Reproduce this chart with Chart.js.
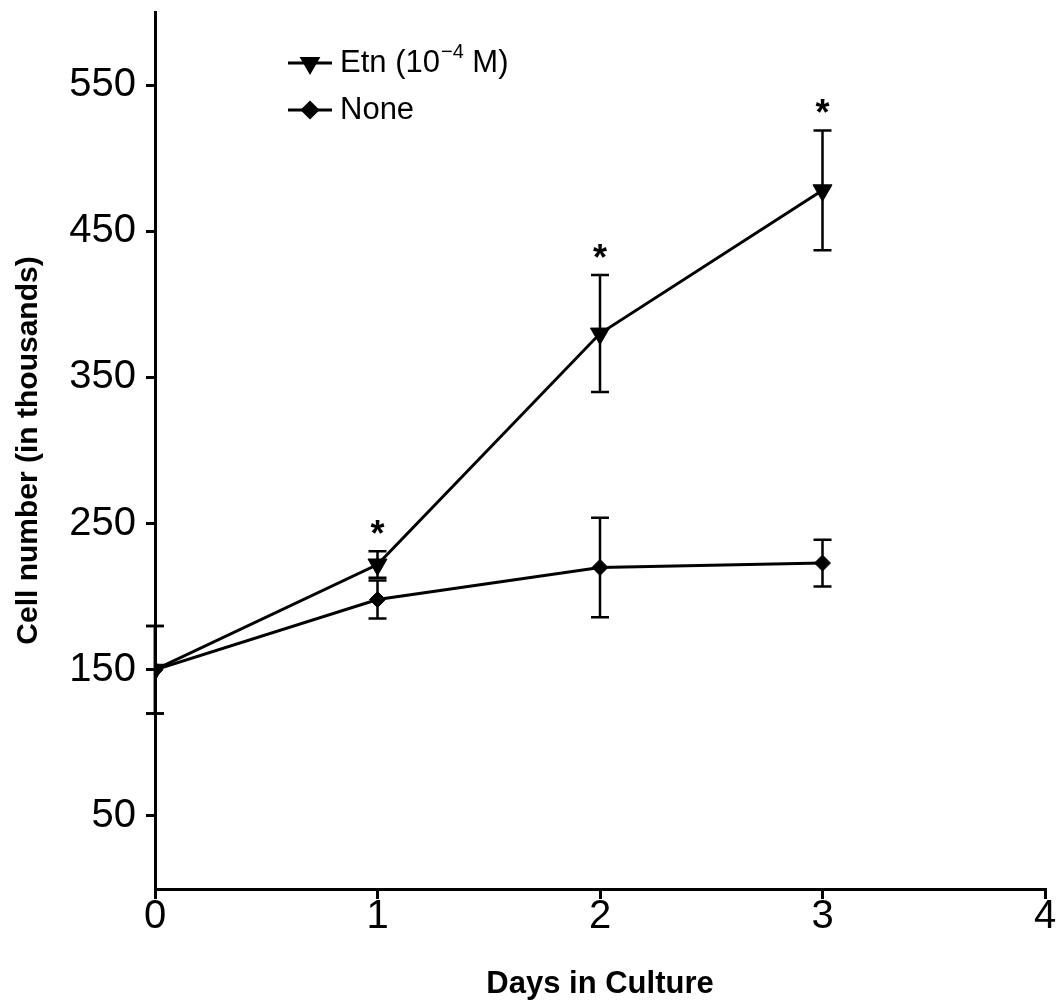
<!DOCTYPE html>
<html><head><meta charset="utf-8">
<script src="https://cdn.jsdelivr.net/npm/chart.js@4.4.1/dist/chart.umd.min.js"></script>
<style>html,body{margin:0;padding:0;background:#fff}</style>
</head><body>
<canvas id="c" width="1060" height="1005"></canvas>
<script>
// ---- data ----
const days = [0, 1, 2, 3];
const etnMean = [150, 222, 380, 478];
const etnErr  = [30, 9, 40, 41];
const noneMean = [150, 198, 220, 223];
const noneErr  = [30, 13, 34, 16];
const sigDays = [1, 2, 3];           // asterisks above Etn
const yTicks = [50, 150, 250, 350, 450, 550];
const xTicks = [0, 1, 2, 3, 4];
const etnLabel = 'Etn (10';
const etnSup = '\u22124';
const etnTail = ' M)';
const noneLabel = 'None';
const xTitle = 'Days in Culture';
const yTitle = 'Cell number (in thousands)';

const FONT = '"Liberation Sans", Arial, sans-serif';

const extras = {
  id: 'extras',
  afterDatasetsDraw(chart) {
    const ctx = chart.ctx, xs = chart.scales.x, ys = chart.scales.y;
    ctx.save();
    ctx.strokeStyle = '#000'; ctx.lineWidth = 2.5; ctx.lineCap = 'butt';
    [[etnMean, etnErr], [noneMean, noneErr]].forEach(([m, e]) => {
      days.forEach((d, i) => {
        const px = xs.getPixelForValue(d);
        const t = ys.getPixelForValue(m[i] + e[i]);
        const b = ys.getPixelForValue(m[i] - e[i]);
        ctx.beginPath();
        ctx.moveTo(px, t); ctx.lineTo(px, b);
        ctx.moveTo(px - 9, t); ctx.lineTo(px + 9, t);
        ctx.moveTo(px - 9, b); ctx.lineTo(px + 9, b);
        ctx.stroke();
      });
    });
    ctx.fillStyle = '#000';
    ctx.font = 'bold 36px ' + FONT;
    ctx.textAlign = 'center'; ctx.textBaseline = 'alphabetic';
    sigDays.forEach(d => {
      const i = days.indexOf(d);
      const px = xs.getPixelForValue(d);
      const t = ys.getPixelForValue(etnMean[i] + etnErr[i]);
      ctx.fillText('*', px, t - 5);
    });
    ctx.restore();
  },
  afterDraw(chart) {
    const ctx = chart.ctx;
    const rows = [63, 110];
    ctx.save();
    ctx.strokeStyle = '#000'; ctx.fillStyle = '#000'; ctx.lineWidth = 3;
    rows.forEach((ry, k) => {
      ctx.beginPath(); ctx.moveTo(288, ry); ctx.lineTo(332, ry); ctx.stroke();
      const ds = chart.data.datasets[k];
      Chart.helpers.drawPoint(ctx, {pointStyle: ds.pointStyle, rotation: ds.rotation || 0, radius: k === 0 ? 9 : 7.5, borderWidth: 1}, 310, ry);
      ctx.fill();
    });
    ctx.textBaseline = 'middle'; ctx.textAlign = 'left';
    ctx.font = '31px ' + FONT;
    let x = 340;
    ctx.fillText(etnLabel, x, rows[0]); x += ctx.measureText(etnLabel).width + 1;
    ctx.font = '20px ' + FONT;
    ctx.fillText(etnSup, x, rows[0] - 11); x += ctx.measureText(etnSup).width;
    ctx.font = '31px ' + FONT;
    ctx.fillText(etnTail, x, rows[0]);
    ctx.fillText(noneLabel, 340, rows[1]);
    ctx.restore();
  }
};

new Chart(document.getElementById('c'), {
  type: 'line',
  data: {
    datasets: [
      { label: etnLabel + etnSup + etnTail,
        data: days.map((d, i) => ({x: d, y: etnMean[i]})),
        borderColor: '#000', backgroundColor: '#000', borderWidth: 3,
        pointStyle: 'triangle', rotation: 180, pointRadius: 11, pointBorderWidth: 1, tension: 0 },
      { label: noneLabel,
        data: days.map((d, i) => ({x: d, y: noneMean[i]})),
        borderColor: '#000', backgroundColor: '#000', borderWidth: 3,
        pointStyle: 'rectRot', pointRadius: 8, pointBorderWidth: 1, tension: 0 }
    ]
  },
  options: {
    responsive: false, animation: false, devicePixelRatio: 1,
    layout: {padding: {top: 12, right: 15, left: 0, bottom: 0}},
    plugins: {legend: {display: false}, tooltip: {enabled: false}},
    scales: {
      x: {
        type: 'linear', min: 0, max: 4,
        afterBuildTicks(s) { s.ticks = xTicks.map(v => ({value: v})); },
        ticks: {color: '#000', font: {family: FONT, size: 40}, padding: -6, maxRotation: 0},
        grid: {drawOnChartArea: false, drawTicks: true, tickLength: 10, color: '#000', lineWidth: 3},
        border: {color: '#000', width: 3},
        title: {display: true, text: xTitle, color: '#000', font: {family: FONT, size: 31, weight: 'bold'}, padding: {top: 0, bottom: 2}},
        afterFit(s) { s.height = 116; s.paddingLeft = 0; s.paddingRight = 0; }
      },
      y: {
        min: 0, max: 600,
        afterBuildTicks(s) { s.ticks = yTicks.map(v => ({value: v})); },
        ticks: {color: '#000', font: {family: FONT, size: 40}, padding: 10},
        grid: {drawOnChartArea: false, drawTicks: true, tickLength: 9, color: '#000', lineWidth: 3},
        border: {color: '#000', width: 3},
        title: {display: true, text: yTitle, color: '#000', font: {family: FONT, size: 30, weight: 'bold'}, padding: {top: 11, bottom: 0}},
        afterFit(s) { s.width = 155; s.paddingTop = 0; s.paddingBottom = 0; }
      }
    }
  },
  plugins: [extras]
});
</script>
</body></html>
